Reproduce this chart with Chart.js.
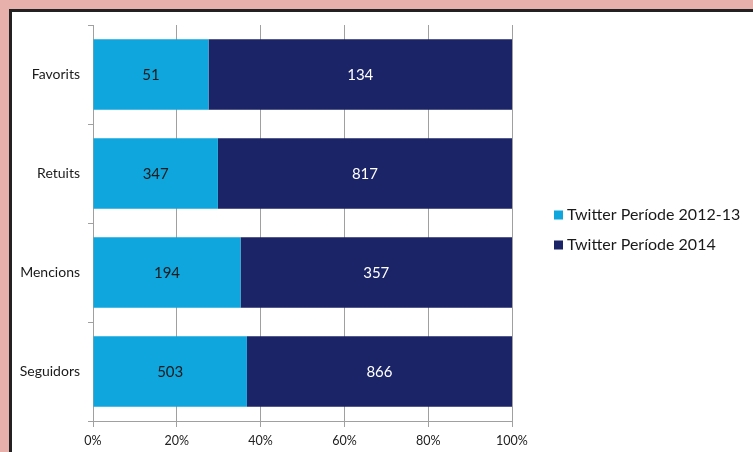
<!DOCTYPE html>
<html>
<head>
<meta charset="utf-8">
<script src="https://cdn.jsdelivr.net/npm/chart.js@4"></script>
<style>
  html, body { margin: 0; padding: 0; }
  body { width: 753px; height: 452px; background: #e8b0aa; overflow: hidden; position: relative; }
  #frame { position: absolute; left: 9px; top: 9px; width: 744px; height: 443px;
           border-top: 3px solid #222; border-left: 3px solid #222; background: #fff; box-sizing: border-box; }
  #wrap { position: absolute; left: 0; top: 0; width: 741px; height: 440px; }
</style>
</head>
<body>
<div id="frame"><div id="wrap"><canvas id="chart"></canvas></div></div>
<script>
'use strict';

const categories = ['Favorits', 'Retuits', 'Mencions', 'Seguidors'];
const series2012 = [51, 347, 194, 503];
const series2014 = [134, 817, 357, 866];
const seriesNames = ['Twitter Període 2012-13', 'Twitter Període 2014'];
const tickLabels = ['0%', '20%', '40%', '60%', '80%', '100%'];

const colorLight = '#0fa6dd';
const colorDark = '#1b2466';
const fontFamily = 'Lato, "Open Sans", sans-serif';

// percent share of each series per category (stacked to 100%)
const totals = categories.map((c, i) => series2012[i] + series2014[i]);
const pct2012 = series2012.map((v, i) => v / totals[i] * 100);
const pct2014 = series2014.map((v, i) => v / totals[i] * 100);
const rawValues = [series2012, series2014];

// dibuja los valores en el centro de cada segmento
const valueLabels = {
    id: 'valueLabels',
    afterDatasetsDraw(chart) {
        const ctx = chart.ctx;
        ctx.save();
        ctx.font = '15px ' + fontFamily;
        ctx.textAlign = 'center';
        ctx.textBaseline = 'middle';
        chart.data.datasets.forEach((ds, di) => {
            const meta = chart.getDatasetMeta(di);
            meta.data.forEach((bar, i) => {
                const p = bar.getProps(['x', 'y', 'base'], true);
                ctx.fillStyle = di === 0 ? '#1a1a1a' : '#ffffff';
                ctx.fillText(String(rawValues[di][i]), (p.x + p.base) / 2, p.y + 1);
            });
        });
        ctx.restore();
    }
};

// leyenda a la derecha, estilo Excel
const sideLegend = {
    id: 'sideLegend',
    afterDraw(chart) {
        const ctx = chart.ctx;
        const x = 542, y0 = 203, gap = 30;
        ctx.save();
        ctx.font = '16px ' + fontFamily;
        ctx.textBaseline = 'middle';
        chart.data.datasets.forEach((ds, i) => {
            const y = y0 + i * gap;
            ctx.fillStyle = ds.backgroundColor;
            ctx.fillRect(x, y - 4.5, 9, 9);
            ctx.fillStyle = '#1a1a1a';
            ctx.fillText(ds.label, x + 13, y);
        });
        ctx.restore();
    }
};

const chart = new Chart(document.getElementById('chart'), {
    type: 'bar',
    data: {
        labels: categories,
        datasets: [
            { label: seriesNames[0], data: pct2012, backgroundColor: colorLight },
            { label: seriesNames[1], data: pct2014, backgroundColor: colorDark }
        ]
    },
    options: {
        indexAxis: 'y',
        responsive: true,
        maintainAspectRatio: false,
        animation: false,
        layout: { padding: { top: 13, right: 241, bottom: -3, left: 0 } },
        datasets: { bar: { categoryPercentage: 1, barPercentage: 0.714 } },
        plugins: { legend: { display: false }, tooltip: { enabled: false } },
        scales: {
            x: {
                stacked: true,
                min: 0,
                max: 100,
                ticks: {
                    stepSize: 20,
                    padding: 6.5,
                    color: '#222',
                    font: { family: fontFamily, size: 12.5 },
                    callback: (v) => tickLabels[Math.round(v / 20)]
                },
                grid: { color: '#a0a0a0', lineWidth: 1, tickLength: 6, drawTicks: true },
                border: { color: '#a0a0a0' }
            },
            y: {
                stacked: true,
                afterFit(scale) {
                    scale.width = 81;
                    scale.paddingTop = 0;
                    scale.paddingBottom = 0;
                },
                ticks: {
                    padding: 8,
                    color: '#1a1a1a',
                    font: { family: fontFamily, size: 14 }
                },
                grid: { offset: true, drawOnChartArea: false, color: '#a0a0a0', tickLength: 5 },
                border: { color: '#a0a0a0' }
            }
        }
    },
    plugins: [valueLabels, sideLegend]
});
</script>
</body>
</html>
